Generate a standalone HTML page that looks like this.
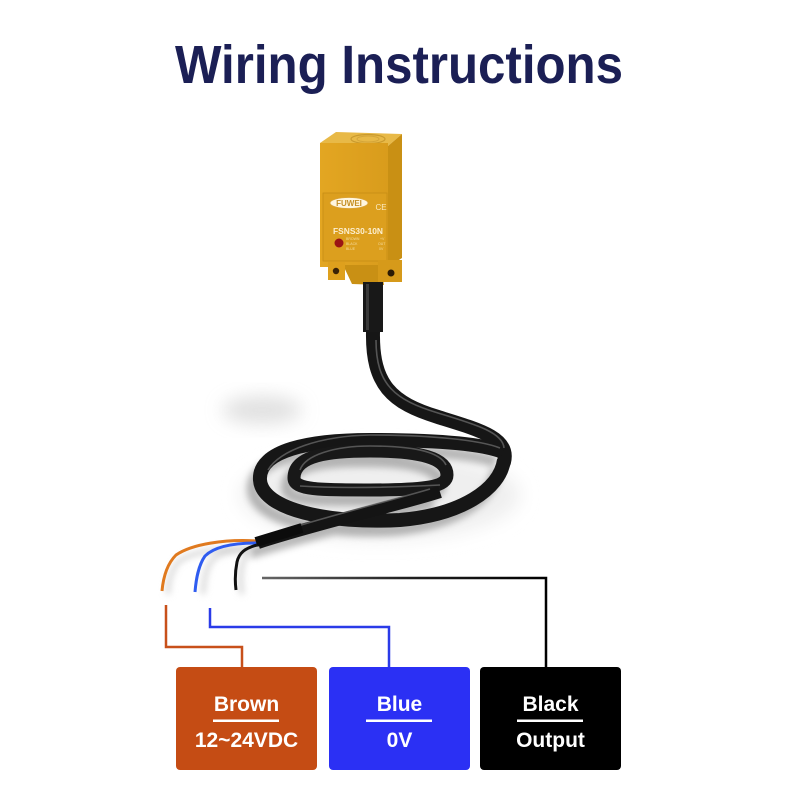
<!DOCTYPE html>
<html><head><meta charset="utf-8"><style>
html,body{margin:0;padding:0;background:#fff;}
svg{display:block;}
</style></head><body>
<svg width="800" height="800" viewBox="0 0 800 800" xmlns="http://www.w3.org/2000/svg">
<defs>
<filter id="blur4" x="-30%" y="-30%" width="160%" height="160%"><feGaussianBlur stdDeviation="3.5"/></filter>
<filter id="blur8" x="-50%" y="-50%" width="200%" height="200%"><feGaussianBlur stdDeviation="9"/></filter>
<linearGradient id="front" x1="0" y1="0" x2="1" y2="0"><stop offset="0" stop-color="#e3a622"/><stop offset="1" stop-color="#d99c1c"/></linearGradient>
<linearGradient id="gline" x1="0" y1="0" x2="1" y2="0"><stop offset="0" stop-color="#666"/><stop offset="0.5" stop-color="#222"/><stop offset="1" stop-color="#000"/></linearGradient>
</defs>
<rect width="800" height="800" fill="#fff"/>

<!-- Title -->
<text x="175" y="83" font-family="'Liberation Sans', sans-serif" font-weight="bold" font-size="54" fill="#1b1f55" textLength="448" lengthAdjust="spacingAndGlyphs">Wiring Instructions</text>

<!-- soft shadows -->
<ellipse cx="262" cy="410" rx="40" ry="14" fill="#d4d4d4" filter="url(#blur8)" opacity="0.7"/>
<ellipse cx="380" cy="495" rx="140" ry="45" fill="#efefef" filter="url(#blur8)"/>

<!-- cable shadows -->
<g fill="none" stroke="#8a8a8a" stroke-width="12" opacity="0.6" filter="url(#blur4)" transform="translate(-7,10)">
<path d="M503,460 C500,490 460,515 400,520 C330,524 262,510 260,480 C258,450 310,440 370,440 C430,440 480,443 503,452"/>
<path d="M294,478 C294,455 330,451 370,451 C420,451 447,458 447,475 C447,488 420,490 370,490 C320,490 294,490 294,478 Z"/>
<path d="M440,492 C400,505 330,520 257,543"/>
</g>

<!-- incoming cable -->
<path d="M373,332 C372,385 392,403 438,417 C480,430 510,438 504,462" fill="none" stroke="#161616" stroke-width="14" stroke-linecap="round"/>
<!-- outer ring -->
<path d="M504,460 C500,490 460,515 400,520 C330,524 262,510 260,480 C258,450 310,440 370,440 C430,440 480,443 503,452" fill="none" stroke="#161616" stroke-width="14"/>
<!-- inner ring -->
<path d="M294,478 C294,455 330,451 370,451 C420,451 447,458 447,475 C447,488 420,490 370,490 C320,490 294,490 294,478 Z" fill="none" stroke="#181818" stroke-width="13"/>
<!-- tail -->
<path d="M440,492 C400,505 330,520 258,543" fill="none" stroke="#141414" stroke-width="12"/>

<!-- highlights -->
<g fill="none" stroke="#707070" stroke-width="1.6" opacity="0.7">
<path d="M376,340 C376,385 395,400 438,413 C478,425 503,433 504,448"/>
<path d="M268,470 C280,450 320,436 370,435 C430,435 480,440 500,448"/>
<path d="M300,470 C305,455 335,446 370,446 C415,446 440,452 446,465"/>
<path d="M300,486 C330,488 380,488 440,485"/>
<path d="M430,489 C390,501 330,515 262,537"/>
</g>

<!-- wires shadows -->
<g fill="none" stroke="#d0d0d0" stroke-width="4" filter="url(#blur4)">
<path d="M250,548 C220,548 190,552 178,562 C170,572 168,585 168,594"/>
<path d="M250,550 C225,551 215,555 210,563 C205,572 204,582 203,594"/>
<path d="M250,552 C245,556 242,562 241,572 C240,580 241,588 242,594"/>
</g>
<!-- wires -->
<path d="M257,541 C225,539 192,544 176,555 C166,565 163,580 162,591" fill="none" stroke="#e07a1f" stroke-width="3"/>
<path d="M257,543 C230,543 213,548 205,556 C198,566 196,580 195,592" fill="none" stroke="#2f5cf0" stroke-width="3"/>
<path d="M257,545 C245,548 239,553 237,562 C235,572 235,582 236,590" fill="none" stroke="#111" stroke-width="3"/>
<!-- sleeve end -->
<path d="M302,528 L256,542" stroke="#0c0c0c" stroke-width="10" fill="none"/>

<!-- Sensor -->
<polygon points="320,143 336,132 402,134 388,146" fill="#e8b947"/>
<ellipse cx="368" cy="139" rx="17" ry="4.5" fill="none" stroke="#c99a2e" stroke-width="1.2"/>
<ellipse cx="368" cy="139" rx="11" ry="3" fill="none" stroke="#d4a53a" stroke-width="1"/>
<polygon points="388,146 402,134 402,258 388,267" fill="#c99014"/>
<rect x="320" y="143" width="68" height="124" fill="url(#front)"/>
<rect x="323" y="193" width="64" height="68" fill="#dc9f1e" stroke="#c68c16" stroke-width="0.8"/>
<ellipse cx="349" cy="203" rx="19" ry="5.5" fill="#fff6df" stroke="#d9a33a" stroke-width="0.8"/>
<text x="349" y="206" text-anchor="middle" font-family="'Liberation Sans', sans-serif" font-weight="bold" font-size="8" fill="#c58f24">FUWEI</text>
<text x="381" y="210" text-anchor="middle" font-family="'Liberation Sans', sans-serif" font-size="8" fill="#fbeac0">CE</text>
<text x="333" y="234" font-family="'Liberation Sans', sans-serif" font-weight="bold" font-size="8" fill="#fcefd0" textLength="50" lengthAdjust="spacingAndGlyphs">FSNS30-10N</text>
<circle cx="339" cy="243" r="4.5" fill="#9a1414"/>
<g font-family="'Liberation Sans', sans-serif" font-size="3.5" fill="#f5dca0">
<text x="346" y="240">BROWN</text><text x="346" y="245">BLACK</text><text x="346" y="250">BLUE</text>
<text x="380" y="240">+V</text><text x="378" y="245">OUT</text><text x="379" y="250">0V</text>
</g>
<polygon points="343,265 381,265 384,285 352,284" fill="#c99014"/>
<rect x="328" y="262" width="17" height="18" fill="#dea01d"/>
<circle cx="336" cy="271" r="3.2" fill="#3a2206"/>
<rect x="378" y="260" width="24" height="22" fill="#d69a1a"/>
<circle cx="391" cy="273" r="3.5" fill="#2a1a05"/>
<rect x="363" y="282" width="20" height="50" fill="#181818"/>
<rect x="366" y="284" width="3" height="46" fill="#3a3a3a"/>

<!-- connector lines -->
<polyline points="166,605 166,647 242,647 242,667" fill="none" stroke="#c8501a" stroke-width="2.5"/>
<polyline points="210,608 210,627 389,627 389,667" fill="none" stroke="#2a3be8" stroke-width="2.5"/>
<polyline points="262,578 546,578 546,667" fill="none" stroke="url(#gline)" stroke-width="2.5"/>

<!-- boxes -->
<rect x="176" y="667" width="141" height="103" rx="4" fill="#c54c14"/>
<rect x="329" y="667" width="141" height="103" rx="4" fill="#2b30f4"/>
<rect x="480" y="667" width="141" height="103" rx="4" fill="#000"/>
<g font-family="'Liberation Sans', sans-serif" font-weight="bold" font-size="21" fill="#fff" text-anchor="middle">
<text x="246.5" y="711">Brown</text>
<text x="246.5" y="747">12~24VDC</text>
<text x="399.5" y="711">Blue</text>
<text x="399.5" y="747">0V</text>
<text x="550.5" y="711">Black</text>
<text x="550.5" y="747">Output</text>
</g>
<rect x="213" y="719.5" width="66" height="2.5" fill="#fff"/>
<rect x="366" y="719.5" width="66" height="2.5" fill="#fff"/>
<rect x="517" y="719.5" width="66" height="2.5" fill="#fff"/>
</svg>
</body></html>
